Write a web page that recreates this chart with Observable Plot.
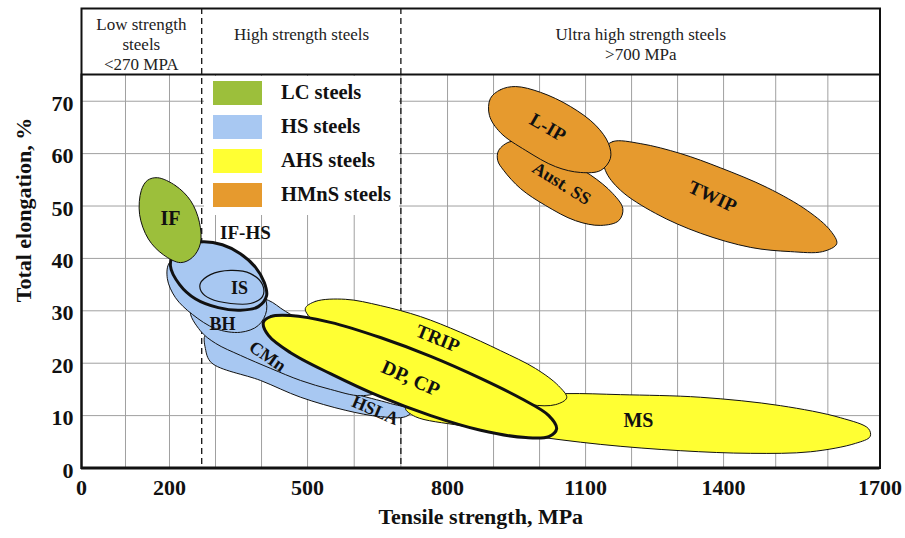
<!DOCTYPE html>
<html><head><meta charset="utf-8">
<script src="https://cdn.jsdelivr.net/npm/d3@7"></script>
<script src="https://cdn.jsdelivr.net/npm/@observablehq/plot@0.6"></script>
<style>
body{margin:0;background:#fff;}
#wrap{position:relative;width:905px;height:538px;font-family:"Liberation Serif","Times New Roman",serif;}
#legend{position:absolute;left:203.5px;top:76px;width:195.5px;height:139px;background:#fff;}
.item{position:absolute;left:9.5px;height:23.5px;display:flex;align-items:center;}
.sw{width:49px;height:23.5px;margin-right:19px;}
.lab{font-weight:bold;font-size:20.5px;color:#111;white-space:nowrap;}
</style></head><body><div id="wrap"><div id="legend"></div></div>
<script>
// ---------- data ----------
const xTicks = [0, 200, 500, 800, 1100, 1400, 1700];
const yTicks = [0, 10, 20, 30, 40, 50, 60, 70];
const xGrid = [100, 200, 300, 400, 500, 600, 700, 800, 900, 1000, 1100, 1200, 1300, 1400, 1500, 1600];
const yGrid = [10, 20, 30, 40, 50, 60, 70];
const boundaries = [270, 700];
const bandLabels = ["Low strength\nsteels\n<270 MPA", "High strength steels", "Ultra high strength steels\n>700 MPa"];
const bandCenter = [136, 487, 1220];
const groups = ["LC steels", "HS steels", "AHS steels", "HMnS steels"];
const groupColors = ["#9cbf3b", "#a8c8f2", "#ffff33", "#e69a2e"];

// outlines: [tensile strength MPa, total elongation %]
const IF = [[173,55.4],[213,53.9],[246,51.0],[265,46.9],[267,42.8],[250,40.2],[224,39.2],[186,40.7],[152,43.7],[132,48.4],[136,53.0],[150,54.9]];
const IF_HS = [[202,38.6],[211,41.1],[237,42.6],[274,43.2],[315,42.6],[354,40.9],[387,38.3],[406,35.4],[411,32.9],[393,30.8],[354,30.1],[306,30.6],[256,32.3],[222,35.0]];
const IS = [[267,35.2],[289,36.9],[333,37.7],[376,37.1],[402,35.0],[402,32.7],[376,31.4],[333,31.4],[289,32.3],[269,33.7]];
const BH = [[200,39.2],[235,40.6],[300,39.6],[365,36.7],[404,33.3],[411,30.1],[393,27.2],[354,25.9],[300,26.6],[250,29.3],[213,32.5],[195,36.2]];
const CMn = [[246,30.1],[311,32.0],[376,32.7],[415,32.0],[452,29.9],[528,26.2],[614,22.4],[667,18.6],[656,14.8],[614,13.8],[549,15.0],[485,16.7],[420,19.0],[354,21.5],[300,23.8],[267,26.2]];
const HSLA = [[278,25.3],[333,23.4],[420,20.1],[506,17.1],[592,14.4],[678,12.3],[725,11.0],[710,9.8],[656,9.8],[582,11.0],[485,13.5],[398,16.7],[291,20.1],[278,22.8]];
const DP_CP = [[404,27.8],[420,28.9],[463,29.1],[549,27.8],[656,24.9],[764,21.3],[872,17.1],[959,13.3],[1020,10.0],[1037,7.5],[1020,6.0],[970,5.8],[872,7.2],[764,10.0],[656,13.6],[549,18.0],[463,22.0],[415,25.3]];
const TRIP = [[495,30.4],[517,31.8],[581,32.2],[656,31.0],[742,28.9],[828,25.9],[915,22.4],[991,19.0],[1041,15.7],[1059,13.4],[1035,12.1],[980,12.1],[893,14.4],[785,18.2],[678,22.0],[582,25.3],[517,27.8]];
const MS = [[710,11.4],[785,12.9],[915,13.6],[1057,14.2],[1176,14.0],[1350,13.5],[1509,11.9],[1624,9.6],[1678,7.5],[1681,6.0],[1653,4.7],[1567,3.1],[1452,2.8],[1307,3.3],[1133,4.5],[959,6.4],[828,8.1],[731,9.8]];
const L_IP = [[893,70.5],[915,72.2],[948,72.8],[1002,71.7],[1067,69.0],[1122,65.4],[1150,61.9],[1154,59.1],[1133,56.8],[1089,56.4],[1035,57.5],[970,60.6],[915,64.0],[891,67.3]];
const AUST_SS = [[911,60.6],[937,62.3],[980,61.5],[1046,59.1],[1111,55.9],[1159,52.4],[1181,49.5],[1172,47.2],[1133,46.3],[1078,47.2],[1013,50.1],[959,53.3],[922,56.8],[909,58.7]];
const TWIP = [[1139,60.6],[1159,62.3],[1220,61.9],[1307,60.0],[1393,57.3],[1484,53.5],[1561,49.1],[1605,45.3],[1617,42.8],[1590,41.3],[1528,41.3],[1452,42.1],[1350,44.8],[1252,48.6],[1176,53.0],[1143,56.8]];

const labelText = ["IF", "IF-HS", "IS", "BH", "CMn", "HSLA", "TRIP", "DP, CP", "MS", "L-IP", "Aust. SS", "TWIP"];
const labelX = [202, 365, 352, 315, 413, 645, 779, 721, 1215, 1018, 1048, 1376];
const labelY = [47.6, 44.8, 34.4, 27.5, 21.3, 11.0, 24.7, 17.1, 9.1, 65.0, 54.3, 51.8];
const labelAngle = [0, 0, 0, 0, 35, 23, 22, 24, 0, 30, 32, 25];

// ---------- drawing ----------
const color = g => groupColors[groups.indexOf(g)];
const shapes = [
  {pts: HSLA, g: "HS steels", w: 1},
  {pts: CMn, g: "HS steels", w: 1},
  {pts: BH, g: "HS steels", w: 1},
  {pts: IF_HS, g: "HS steels", w: 3},
  {pts: IS, g: "HS steels", w: 1.2},
  {pts: IF, g: "LC steels", w: 1},
  {pts: MS, g: "AHS steels", w: 1},
  {pts: TRIP, g: "AHS steels", w: 1},
  {pts: DP_CP, g: "AHS steels", w: 3},
  {pts: TWIP, g: "HMnS steels", w: 1},
  {pts: AUST_SS, g: "HMnS steels", w: 1},
  {pts: L_IP, g: "HMnS steels", w: 1}
];
const labels = labelText.map((t, i) => ({t, x: labelX[i], y: labelY[i], a: labelAngle[i]}));
const labelSize = {"IF": 20, "IF-HS": 19, "IS": 18, "BH": 18, "CMn": 18, "HSLA": 18, "TRIP": 19, "DP, CP": 20, "MS": 20, "L-IP": 19, "Aust. SS": 18, "TWIP": 19};
const bands = bandLabels.map((t, i) => ({t, x: bandCenter[i]}));
const bandDy = [-58.4, -48.4, -48.4];

// the printed axis is slightly uneven: tick positions (fraction of axis length) used as a piecewise interpolator
const tickFrac = [0, 0.1102, 0.2831, 0.4584, 0.6313, 0.8041, 1];
const warp = d3.scaleLinear().domain(xTicks.map(v => v / 1700)).range(tickFrac);
const xInterp = (a, b) => t => a + (b - a) * warp(t);

const font = "'Liberation Serif', 'Times New Roman', serif";
const plot = Plot.plot({
  width: 905, height: 538,
  marginLeft: 81, marginRight: 25.5, marginTop: 74, marginBottom: 70.5,
  style: {fontFamily: font, background: "white", color: "#111", overflow: "visible"},
  x: {domain: [0, 1700], interpolate: xInterp},
  y: {domain: [0, 75.1]},
  marks: [
    Plot.gridX(xGrid, {stroke: "#a0a0a0", strokeOpacity: 1, strokeWidth: 1}),
    Plot.gridY(yGrid, {stroke: "#a0a0a0", strokeOpacity: 1, strokeWidth: 1}),
    Plot.ruleX(boundaries, {stroke: "#111", strokeWidth: 1.3, strokeDasharray: "6,4", insetTop: -66}),
    ...shapes.map(s => Plot.line(s.pts, {x: d => d[0], y: d => d[1], curve: "catmull-rom-closed",
      fill: color(s.g), stroke: "#111", strokeWidth: s.w})),
    Plot.text(labels, {x: "x", y: "y", text: "t", rotate: "a", fontSize: d => labelSize[d.t], fontWeight: "bold", fill: "#111"}),
    ...bands.map((b, i) => Plot.text([b], {x: "x", text: "t", frameAnchor: "top", lineAnchor: "top", dy: bandDy[i],
      fontSize: 17, lineHeight: 1.18, fill: "#222"})),
    Plot.frame({stroke: "#111", strokeWidth: 2, insetTop: -66}),
    Plot.frame({stroke: "#111", strokeWidth: 2}),
    Plot.ruleY([0], {stroke: "#111", strokeWidth: 3}),
    Plot.axisX(xTicks, {tickSize: 0, tickPadding: 11.5, fontSize: 22, fontWeight: "bold", tickFormat: "d", label: null}),
    Plot.axisY(yTicks, {tickSize: 0, tickPadding: 8, fontSize: 22, fontWeight: "bold", tickFormat: "d", label: null, dy: 2.5}),
    Plot.text(["Tensile strength, MPa"], {frameAnchor: "bottom", dy: 56, fontSize: 22, fontWeight: "bold"}),
    Plot.text(["Total elongation, %"], {frameAnchor: "left", dx: -58, dy: 31, rotate: -90, fontSize: 22, fontWeight: "bold"})
  ]
});
const wrap = document.getElementById("wrap");
wrap.insertBefore(plot, wrap.firstChild);

const legend = d3.select("#legend");
groups.forEach((g, i) => {
  const it = legend.append("div").attr("class", "item").style("top", (5 + 34 * i) + "px");
  it.append("div").attr("class", "sw").style("background", groupColors[i]);
  it.append("div").attr("class", "lab").text(g);
});
</script></body></html>
